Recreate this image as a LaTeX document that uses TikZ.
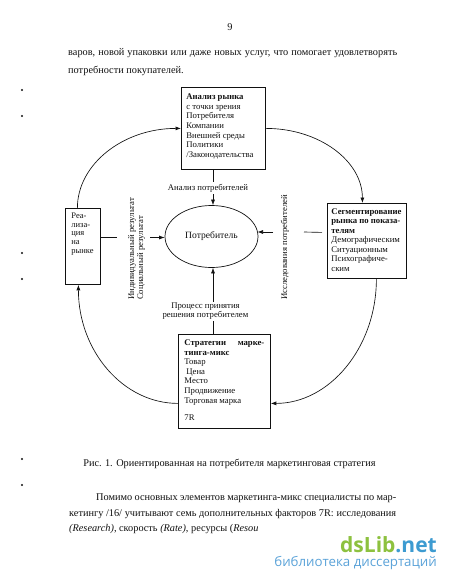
\documentclass[tikz,border=0pt]{standalone}
\usepackage{fontspec}
\setmainfont{Liberation Serif}
\newfontfamily\wmfont{Open Sans}
\usetikzlibrary{arrows.meta,shapes.geometric}
\definecolor{ink}{HTML}{111111}
\definecolor{wmgreen}{HTML}{8DC13F}
\definecolor{wmblue}{HTML}{3D9BD1}
\definecolor{wmblue2}{HTML}{5BA3D9}
\newcommand{\bxt}[4]{\parbox[c][#1][t]{#2}{\vspace*{#3}#4}}
\begin{document}
\begin{tikzpicture}[x=1pt,y=-1pt,
  ln/.style={draw=ink, line width=0.65pt},
  arr/.style={ln, -{Latex[length=5.5pt,width=4pt]}},
  bxs/.style={draw=ink, line width=0.8pt, inner ysep=0pt, anchor=north west, text=ink},
  lbl/.style={font=\fontsize{8.7}{9}\selectfont, align=center, inner sep=1.5pt, text=ink},
  rot/.style={rotate=90, anchor=west, inner sep=0pt, font=\fontsize{8.7}{9}\selectfont, text=ink},
  body/.style={font=\fontsize{10.3}{12}\selectfont, inner sep=0pt, anchor=base west, text=ink}
]
\useasboundingbox (0,0) rectangle (450,582);
\fill[white] (0,0) rectangle (450,582);

% page text
\node[body, anchor=base] (pg) at (230,30) {9};
\node[body] (t1) at (68,55) {\makebox[329pt][s]{варов, новой упаковки или даже новых услуг, что помогает удовлетворять}};
\node[body] (t2) at (68,73) {потребности покупателей.};

% stray dots
\foreach \yy/\nm in {90/d1,116/d2,253/d3,279/d4,459/d5,485/d6}
  \fill[ink] (22,\yy) circle (1.1);

% boxes
\node[bxs, inner xsep=5pt] (tb) at (181,87) {\fontsize{8.7}{9.7}\selectfont\bxt{82pt}{74pt}{5.2pt}{\strut\textbf{Анализ рынка}\\с точки зрения\\Потребителя\\Компании\\Внешней среды\\Политики\\/Законодательства}};
\node[bxs, inner xsep=6pt] (lb) at (65,208) {\fontsize{8.5}{8.8}\selectfont\bxt{76pt}{23pt}{3.8pt}{\strut Реа-\\лиза-\\ция\\на\\рынке}};
\node[bxs, inner xsep=4pt] (rb) at (327,203) {\fontsize{8.7}{9.5}\selectfont\bxt{75pt}{71pt}{4.3pt}{\strut\textbf{Сегментирование}\\\textbf{рынка по показа-}\\\textbf{телям}\\Демографическим\\Ситуационным\\Психографиче-\\ским}};
\node[bxs, inner xsep=6pt] (bb) at (178,334) {\fontsize{8.7}{9.6}\selectfont\bxt{94pt}{80pt}{4.3pt}{\strut\textbf{Стратегии\hfill марке-}\\\textbf{тинга-микс}\\Товар\\\hspace*{2pt}Цена\\Место\\Продвижение\\Торговая марка\\[7.5pt]7R}};

\node[ellipse, draw=ink, line width=0.7pt, minimum width=93pt, minimum height=62pt, inner sep=0pt, font=\fontsize{9.6}{11}\selectfont, text=ink] (ell) at (211.5,236.5) {Потребитель};

% vertical arrows
\coordinate (et) at ([xshift=1.5pt]ell.north);
\coordinate (eb) at ([xshift=1.5pt]ell.south);
\draw[arr] (tb.south -| et) -- (et);
\draw[arr] (bb.north -| eb) -- (eb);
\node[lbl, fill=white] (la) at (208,188) {Анализ потребителей};
\node[lbl, fill=white] (lp) at (205.5,311.5) {Процесс принятия\\решения потребителем};

% horizontal connectors
\coordinate (l1) at (117,237.5);
\coordinate (l2) at (150,237.5);
\draw[ln] (lb.east |- l1) -- (l1);
\draw[arr] (l2) -- (ell.west |- l2);
\coordinate (r1) at ([shift={(-5pt,8.5pt)}]rb.west);
\coordinate (r2) at (304,232);
\coordinate (r3) at (273,232);
\draw[ln] (r1) -- (r2);
\draw[arr] (r3) -- (257.5,232);

\node[rot, align=left] (res) at (136.5,300) {Индивидуальный результат\\Социальный результат};
\node[rot] (iss) at (285,300) {Исследования потребителей};

% loop arcs
\draw[arr] ([xshift=-5.5pt]lb.north) .. controls +(0,-44) and +(-57.5,0) .. (tb.west);
\draw[arr] (tb.east) .. controls +(53.5,0) and +(0,-42) .. ([xshift=-4.5pt]rb.north);
\draw[arr] ([xshift=9.5pt]rb.south) .. controls +(0,69) and +(58.5,0) .. ([yshift=-22pt]bb.east);
\draw[arr] ([yshift=-22pt]bb.west) .. controls +(-55,0) and +(0,66) .. ([xshift=-4.5pt]lb.south);

% caption and paragraph
\node[body, anchor=base] (cap) at (229.5,466) {Рис. 1. Ориентированная на потребителя маркетинговая стратегия};
\node[body] (p1) at (96,500.5) {\makebox[300pt][s]{Помимо основных элементов маркетинга-микс специалисты по мар-}};
\node[body] (p2) at (69,516.5) {\makebox[327pt][s]{кетингу /16/ учитывают семь дополнительных факторов 7R: исследования}};
\node[body] (p3) at (69,531.5) {\textit{(Research)}, скорость \textit{(Rate)}, ресурсы (\textit{Resou}};

% watermark
\node[anchor=base east, inner sep=0pt, font=\wmfont\bfseries\fontsize{21}{21}\selectfont] (wm1) at (437,552) {\textcolor{wmgreen}{dsLib}\textcolor{wmblue}{.net}};
\node[anchor=base east, inner sep=0pt, font=\wmfont\fontsize{13.3}{14}\selectfont, text=wmblue2] (wm2) at (437,566) {библиотека диссертаций};
\end{tikzpicture}
\end{document}
